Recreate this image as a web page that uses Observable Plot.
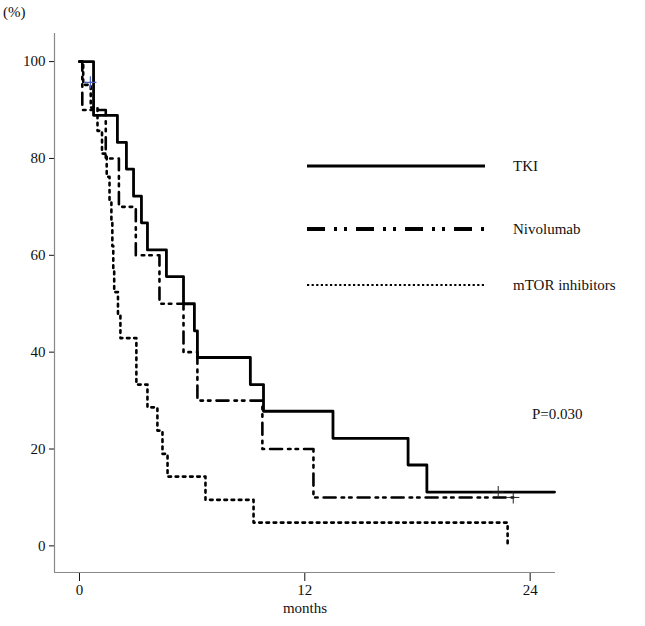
<!DOCTYPE html>
<html>
<head>
<meta charset="utf-8">
<script src="https://cdn.jsdelivr.net/npm/d3@7"></script>
<script src="https://cdn.jsdelivr.net/npm/@observablehq/plot@0.6"></script>
<style>
  html, body { margin: 0; padding: 0; background: #fff; }
  #chart svg { display: block; overflow: visible; font-family: "Liberation Serif", "Times New Roman", serif !important; }
  #chart svg text { font-family: "Liberation Serif", "Times New Roman", serif !important; }
</style>
</head>
<body>
<div id="chart"></div>
<script>
// ---- data (months, survival %) ----
const seriesNames = ["TKI", "Nivolumab", "mTOR inhibitors"];

const tkiTime = [0, 0.75, 2.02, 2.50, 2.88, 3.30, 3.62, 4.63, 5.54, 6.12, 6.28, 9.1, 9.8, 13.5, 17.5, 18.5, 25.3];
const tkiSurv = [100, 88.9, 83.3, 77.8, 72.2, 66.7, 61.1, 55.6, 50.0, 44.4, 38.9, 33.3, 27.8, 22.2, 16.7, 11.1, 11.1];
const tkiCensorTime = [22.3];
const tkiCensorSurv = [11.1];

const nivoTime = [0, 0.15, 1.4, 2.1, 3.0, 4.26, 5.54, 6.28, 9.74, 12.46, 23.1];
const nivoSurv = [100, 90, 80, 70, 60, 50, 40, 30, 20, 10, 10];
const nivoCensorTime = [23.1];
const nivoCensorSurv = [10];

const mtorTime = [0, 0.2, 0.6, 0.96, 1.2, 1.45, 1.6, 1.7, 1.75, 1.8, 1.85, 2.05, 2.18, 3.03, 3.62, 4.15, 4.42, 4.69, 6.71, 9.27, 22.8];
const mtorSurv = [100, 95.2, 90.5, 85.7, 81.0, 76.2, 71.4, 66.7, 61.9, 57.1, 52.4, 47.6, 42.9, 33.3, 28.6, 23.8, 19.0, 14.3, 9.5, 4.8, 0];
const mtorCensorTime = [0.58];
const mtorCensorSurv = [95.7];

const xTicks = [0, 12, 24];
const yTicks = [0, 20, 40, 60, 80, 100];
const pValueText = "P=0.030";

// ---- build tables ----
const toRows = (t, s) => t.map((d, i) => ({time: d, surv: s[i]}));
const tki = toRows(tkiTime, tkiSurv);
const nivo = toRows(nivoTime, nivoSurv);
const mtor = toRows(mtorTime, mtorSurv);
const censTki = toRows(tkiCensorTime, tkiCensorSurv);
const censNivo = toRows(nivoCensorTime, nivoCensorSurv);
const censMtor = toRows(mtorCensorTime, mtorCensorSurv);

const xDom = [-1.33, 25.35];
const yDom = [-5.5, 105.8];

const FONT = "'Liberation Serif', 'Times New Roman', serif";

const plot = Plot.plot({
  width: 645,
  height: 626,
  marginLeft: 54,
  marginRight: 90,
  marginTop: 33,
  marginBottom: 54,
  style: {fontFamily: FONT, fontSize: "15px", color: "#111", background: "#fff"},
  x: {domain: xDom, ticks: xTicks, tickSize: 9, tickPadding: 3, label: "months", labelAnchor: "center", labelOffset: 40, labelArrow: "none"},
  y: {domain: yDom, ticks: yTicks, tickSize: 5, tickPadding: 4, label: null},
  marks: [
    Plot.ruleX([xDom[0]], {stroke: "#888", strokeWidth: 1.2}),
    Plot.ruleY([yDom[0]], {stroke: "#888", strokeWidth: 1.2}),
    Plot.line(mtor, {x: "time", y: "surv", curve: "step-after", stroke: "#000", strokeWidth: 2.6, strokeDasharray: "2.6,4.6"}),
    Plot.line(nivo, {x: "time", y: "surv", curve: "step-after", stroke: "#000", strokeWidth: 2.6, strokeDasharray: "12,6,2.5,5,2.5,6"}),
    Plot.line(tki, {x: "time", y: "surv", curve: "step-after", stroke: "#000", strokeWidth: 2.8}),
    Plot.dot(censTki, {x: "time", y: "surv", symbol: "plus", r: 4, stroke: "#222", strokeWidth: 1}),
    Plot.dot(censNivo, {x: "time", y: "surv", symbol: "plus", r: 4, stroke: "#222", strokeWidth: 1}),
    Plot.dot(censMtor, {x: "time", y: "surv", symbol: "plus", r: 4, stroke: "#4a5fc1", strokeWidth: 1.2})
  ]
});

document.getElementById("chart").appendChild(plot);

// ---- legend, y unit, p-value ----
const svg = d3.select(plot);
const legendX1 = 307, legendX2 = 485, legendTextX = 513;
const legendY = [166, 229, 285];
const legendStroke = [2.8, 4, 2.2];
const legendDash = [null, "18,9,3,7,3,9", "2.2,2.4"];
seriesNames.forEach((name, i) => {
  svg.append("line")
    .attr("x1", legendX1).attr("x2", legendX2)
    .attr("y1", legendY[i]).attr("y2", legendY[i])
    .attr("stroke", "#000").attr("stroke-width", legendStroke[i])
    .attr("stroke-dasharray", legendDash[i]);
  svg.append("text")
    .attr("x", legendTextX).attr("y", legendY[i])
    .attr("dy", "0.35em")
    .attr("text-anchor", "start")
    .attr("font-family", FONT)
    .attr("font-size", 15)
    .attr("fill", "#111")
    .text(name);
});
svg.append("text")
  .attr("x", 532).attr("y", 414).attr("dy", "0.35em")
  .attr("text-anchor", "start")
  .attr("font-family", FONT)
  .attr("font-size", 15).attr("fill", "#111")
  .text(pValueText);
svg.append("text")
  .attr("x", 3).attr("y", 12).attr("dy", "0.35em")
  .attr("text-anchor", "start")
  .attr("font-family", FONT)
  .attr("font-size", 15).attr("fill", "#111")
  .text("(%)");
</script>
</body>
</html>
